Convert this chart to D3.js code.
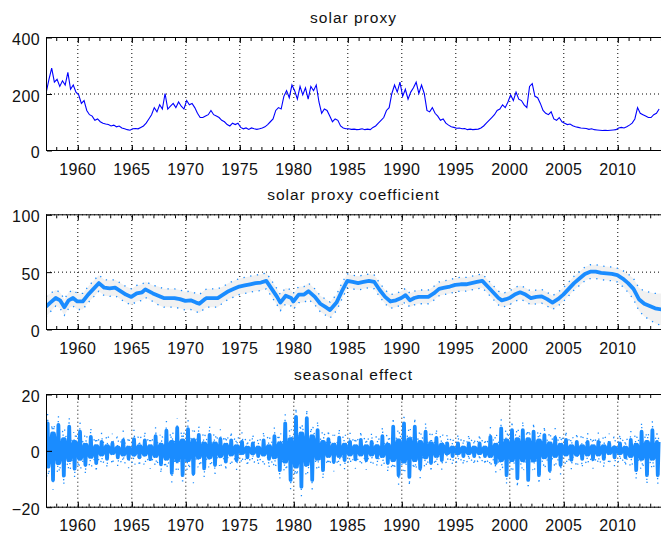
<!DOCTYPE html>
<html><head><meta charset="utf-8">
<script src="https://cdn.jsdelivr.net/npm/d3@7"></script>
<style>
html,body{margin:0;padding:0;background:#fff;}
svg{display:block;}
text{font-family:"Liberation Sans",Arial,sans-serif;}
</style></head><body>
<svg id="chart" width="661" height="539"></svg>
<script>
// ---------------- DATA ----------------
const xDomain = [1957.1, 2014.14];
const xTickValues = [1960,1965,1970,1975,1980,1985,1990,1995,2000,2005,2010];
const xMinorTicks = d3.range(1958, 2015, 1);

// panel 1: solar proxy, quarterly from 1957.125
const solarStart = 1957.125, solarStep = 0.25;
const solarProxy = [205,250,290,240, 250,225,245,230, 275,215,230,205, 195,165,175,140,
 125,120,105,110, 100,95,92,90, 85,88,82,85, 78,75,72,70, 75,76,75,80, 85,95,110,125,
 150,135,160,145, 200,145,155,165, 150,170,155,145, 175,160,165,150, 130,115,115,120,
 125,140,125,120, 115,105,100,90, 85,95,90,95, 80,75,78,73, 78,75,73,75, 78,82,90,100,
 110,140,150,145, 190,210,185,230, 210,180,225,195, 220,180,225,210, 230,170,130,145,
 140,120,100,110, 105,85,78,75, 75,73,74,72, 73,75,72,74, 72,80,85,95, 105,115,140,150,
 200,230,205,240, 190,215,180,205, 220,240,200,230, 200,140,135,150, 130,120,105,110,
 95,88,82,80, 77,78,75,76, 72,74,72,73, 74,78,85,95, 105,115,125,140, 145,160,150,170,
 195,175,205,180, 175,160,150,225, 235,190,185,165, 140,130,125,135, 110,105,115,100,
 95,90,92,86, 82,80,78,77, 76,73,75,72, 71,70,69,70, 69,70,71,72, 78,80,78,82,
 88,95,110,150, 130,125,120,115, 115,125,130,145];
const solarYTicks = [0,200,400];

// panel 2: solar proxy coefficient
const coefYears = [1957.1,1957.5,1958.0,1958.4,1958.8,1959.2,1959.6,1960.0,1960.5,1961.0,1961.5,1962.0,1962.5,1963.0,1963.5,1964.0,1964.5,1965.0,1965.5,1966.0,1966.3,1967.0,1967.5,1968.0,1968.5,1969.0,1969.5,1970.0,1970.5,1971.0,1971.3,1971.8,1972.0,1972.5,1973.0,1973.5,1974.0,1974.5,1975.0,1975.5,1976.0,1976.5,1977.0,1977.5,1978.0,1978.5,1978.8,1979.3,1979.8,1980.0,1980.5,1981.0,1981.4,1982.0,1982.5,1983.0,1983.4,1984.0,1984.5,1985.0,1985.5,1986.0,1986.5,1987.0,1987.5,1988.0,1988.5,1989.0,1989.5,1990.0,1990.4,1990.8,1991.2,1991.6,1992.0,1992.5,1993.0,1993.5,1994.0,1994.5,1995.0,1995.5,1996.0,1996.5,1997.0,1997.5,1998.0,1998.5,1999.0,1999.3,1999.7,2000.0,2000.5,2001.0,2001.5,2002.0,2002.5,2003.0,2003.5,2004.0,2004.5,2005.0,2005.5,2006.0,2006.5,2007.0,2007.5,2008.0,2008.5,2009.0,2009.5,2010.0,2010.5,2011.0,2011.5,2012.0,2012.5,2013.0,2013.5,2014.1];
const coefValues = [19.5,23,27,25,19,25,27,24,24,30,35,40,36,35.5,36,33,30,28,31,32,34.5,31,29,27,27,27,26,24.5,25,23,22,26,27,27,27,30,33,35,37,38,39,40,40.5,42,35,28,23,29,27,24,30,30,33,28,22,19,16.5,23,33,42,41,40,41,42,41,34,28,24,25,27,29.5,25,27,28,28,28,31,35,36,37,38.5,39,39,40,41,42,37,32,27,25,26,27,30,32,30,27,28,28.5,26,23,26,30,35,40,44,48,50,50,49,48.5,48,47,44,40,35,26,22,20,18,17];
const coefHalfWidth = [9,8,7,7,7,7,7,7,7,7,7,7,7,7,7,7,7,7,7,7,7,7,8,8,8,8,8,8,8,8,8,8,8,8,8,7,7,7,7,7,7,7,7,7,7,7,7,7,7,7,7,7,7,7,7,7,7,7,7,6,6,6,6,6,6,6,6,6,6,6,6,6,6,6,6,6,6,6,6,6,6,6,6,6,6,6,6,6,6,6,6,6,6,6,6,6,6,6,6,6,6,6,6,6,6,6,6,6,6,6,6,6,7,8,9,10,11,12,13,14];
const coefYTicks = [0,50,100];

// panel 3: seasonal effect (yearly lobes: positive block then negative block)
const seasonYears = d3.range(1957, 2014, 1);
const seasonPosHi = [9.6,9,8.4,6.6,4.8,3,2.5,3.5,4,3.5,5,7,8,7.5,5.5,5.5,4,3.5,3,2.5,3.5,5,9.6,11.9,11.4,7.2,4,4.5,3,3.7,3,5,8.4,9.6,8.4,6.6,4.4,2.5,2.5,2.5,2.5,4.8,7.8,7.2,7.2,6.6,5.4,4.4,3.7,3,3,3,2.5,2.5,3.7,6.6,7.2];
const seasonPosLo = [-5.8,-4.5,-3.5,-3,-2.3,-1.5,-1,-1.5,-1.5,-1.5,-2,-3,-3.5,-3.5,-2.5,-2.5,-2,-1.5,-1,-1,-1.5,-2.5,-4,-5.8,-5,-3,-2,-2,-1.5,-1.5,-1.5,-2,-3.5,-4,-3.5,-2.5,-2,-1,-1,-1,-1,-2,-3.5,-3.5,-3.5,-3.5,-2.5,-2,-1.5,-1.5,-1.5,-1.5,-1,-1,-2,-3,-3];
const seasonNegHi = [6,4,3,2,1.5,1.5,1,1,1.5,1.5,2,3,3.5,3.5,2.5,2.5,2,1.5,1,1,1.5,2.5,4,6,5,3,2,2,1.5,1.5,1.5,2,3.5,4,3,2.5,2,1,1,1,1,2,3.5,4,4,3.5,2.5,2,1.5,1.5,1.5,1.5,1,1,2,3,3];
const seasonNegLo = [-10.5,-9,-6.5,-5.2,-4.5,-3,-2.5,-2.8,-2.5,-3,-5,-8,-8.8,-8.2,-6.4,-5.2,-4,-3.5,-2.5,-2,-3,-7,-10.5,-12.9,-10.5,-7,-4,-3.5,-3,-3.4,-2.5,-4.5,-8.8,-9.4,-6.4,-4.5,-3.5,-2,-2,-2,-2,-4.5,-8.8,-9.9,-10.5,-8.8,-7,-5.2,-3.4,-3,-3,-3,-2.5,-2.5,-7,-8.8,-8.8];
const seasonHalfWidth = 3.5;
const seasonYTicks = [-20,0,20];

const titles = ["solar proxy", "solar proxy coefficient", "seasonal effect"];

// ---------------- LAYOUT ----------------
const svg = d3.select("#chart");
const L = 46, R = 662;
const panels = [
  {top:37, bottom:150, yDomain:[0,400], yTicks:solarYTicks, title:titles[0]},
  {top:214.3, bottom:329, yDomain:[0,100], yTicks:coefYTicks, title:titles[1]},
  {top:394, bottom:506.7, yDomain:[-20,20], yTicks:seasonYTicks, title:titles[2]}
];
const blue1 = "#0000ff";
const blue2 = "#1a8cff";

panels.forEach((p, i) => {
  const x = d3.scaleLinear().domain(xDomain).range([L, R]);
  const y = d3.scaleLinear().domain(p.yDomain).range([p.bottom, p.top]);
  const g = svg.append("g");
  const clipId = "clip" + i;
  svg.append("clipPath").attr("id", clipId).append("rect")
    .attr("x", L).attr("y", p.top).attr("width", R - L).attr("height", p.bottom - p.top);

  // grid
  const gridX = g.append("g").attr("transform", `translate(0,${p.bottom})`)
    .call(d3.axisBottom(x).tickValues(xTickValues).tickSize(-(p.bottom - p.top)).tickFormat(""));
  gridX.select(".domain").remove();
  gridX.selectAll("line").attr("stroke", "#000").attr("stroke-dasharray", "1,3").attr("stroke-width", 1);
  const gridY = g.append("g").attr("transform", `translate(${L},0)`)
    .call(d3.axisLeft(y).tickValues(p.yTicks).tickSize(-(R - L)).tickFormat(""));
  gridY.select(".domain").remove();
  gridY.selectAll("line").attr("stroke", "#000").attr("stroke-dasharray", "1,3").attr("stroke-width", 1);

  const plot = g.append("g").attr("clip-path", `url(#${clipId})`);

  if (i === 0) {
    const pts = solarProxy.map((v, k) => [solarStart + k * solarStep, v]);
    plot.append("path").datum(pts)
      .attr("d", d3.line().x(d => x(d[0])).y(d => y(d[1])))
      .attr("fill", "none").attr("stroke", blue1).attr("stroke-width", 1.1);
  } else if (i === 1) {
    const pts = coefYears.map((t, k) => ({t, v: coefValues[k], h: coefHalfWidth[k]}));
    plot.append("path").datum(pts)
      .attr("d", d3.area().x(d => x(d.t)).y0(d => y(d.v - d.h)).y1(d => y(d.v + d.h)))
      .attr("fill", "#f1f1f1").attr("stroke", "none");
    [1, -1].forEach(s => {
      plot.append("path").datum(pts)
        .attr("d", d3.line().x(d => x(d.t)).y(d => y(d.v + s * d.h)))
        .attr("fill", "none").attr("stroke", blue2).attr("stroke-width", 1.3)
        .attr("stroke-dasharray", "1.3,5.5");
    });
    plot.append("path").datum(pts)
      .attr("d", d3.line().x(d => x(d.t)).y(d => y(d.v)))
      .attr("fill", "none").attr("stroke", blue2).attr("stroke-width", 3.8)
      .attr("stroke-linejoin", "round");
  } else {
    const pts = [];
    seasonYears.forEach((yr, k) => {
      pts.push([yr + 0.17, seasonPosLo[k]], [yr + 0.25, seasonPosHi[k]], [yr + 0.33, seasonPosLo[k]]);
      pts.push([yr + 0.67, seasonNegHi[k]], [yr + 0.75, seasonNegLo[k]], [yr + 0.83, seasonNegHi[k]]);
    });
    [1, -1].forEach(s => {
      plot.append("path").datum(pts)
        .attr("d", d3.line().x(d => x(d[0])).y(d => y(d[1] + s * seasonHalfWidth)))
        .attr("fill", "none").attr("stroke", blue2).attr("stroke-width", 1.3)
        .attr("stroke-dasharray", "1.3,7");
    });
    plot.append("path").datum(pts)
      .attr("d", d3.line().x(d => x(d[0])).y(d => y(d[1])))
      .attr("fill", "none").attr("stroke", blue2).attr("stroke-width", 3.8)
      .attr("stroke-linejoin", "round");
  }

  // border
  g.append("rect").attr("x", L + 0.5).attr("y", p.top + 0.5)
    .attr("width", R - L).attr("height", p.bottom - p.top)
    .attr("fill", "none").attr("stroke", "#000").attr("stroke-width", 1);

  // inward ticks (bottom & top): major + minor
  const tickStyle = sel => { sel.select(".domain").remove(); sel.selectAll("line").attr("stroke", "#000"); };
  g.append("g").attr("transform", `translate(0.5,${p.bottom})`)
    .call(d3.axisTop(x).tickValues(xTickValues).tickSize(5).tickFormat("")).call(tickStyle);
  g.append("g").attr("transform", `translate(0.5,${p.top + 1})`)
    .call(d3.axisBottom(x).tickValues(xTickValues).tickSize(5).tickFormat("")).call(tickStyle);
  g.append("g").attr("transform", `translate(0.5,${p.bottom})`)
    .call(d3.axisTop(x).tickValues(xMinorTicks).tickSize(3).tickFormat("")).call(tickStyle);
  g.append("g").attr("transform", `translate(0.5,${p.top + 1})`)
    .call(d3.axisBottom(x).tickValues(xMinorTicks).tickSize(3).tickFormat("")).call(tickStyle);
  g.append("g").attr("transform", `translate(${L + 1},0.5)`)
    .call(d3.axisRight(y).tickValues(p.yTicks).tickSize(5).tickFormat("")).call(tickStyle);

  // labels
  const xl = g.append("g").attr("transform", `translate(0,${p.bottom})`)
    .call(d3.axisBottom(x).tickValues(xTickValues).tickSize(0).tickPadding(0).tickFormat(d3.format("d")));
  xl.select(".domain").remove();
  xl.selectAll("text").attr("dy", null).attr("y", 24.5)
    .attr("font-size", 16).attr("letter-spacing", 0.4).attr("fill", "#111")
    .attr("font-family", '"Liberation Sans", Arial, sans-serif');
  const yl = g.append("g").attr("transform", `translate(${L},0)`)
    .call(d3.axisLeft(y).tickValues(p.yTicks).tickSize(0).tickPadding(0).tickFormat(d3.format("d")));
  yl.select(".domain").remove();
  yl.selectAll("text").attr("dy", null).attr("x", -6).attr("y", 7.5)
    .attr("font-size", 16).attr("letter-spacing", 0.4).attr("fill", "#111")
    .attr("font-family", '"Liberation Sans", Arial, sans-serif');

  g.append("text").attr("x", (L + 661) / 2).attr("y", p.top - 14)
    .attr("text-anchor", "middle").attr("font-size", 15.5).attr("letter-spacing", 1)
    .attr("fill", "#111").text(p.title);
});
</script>
</body></html>
